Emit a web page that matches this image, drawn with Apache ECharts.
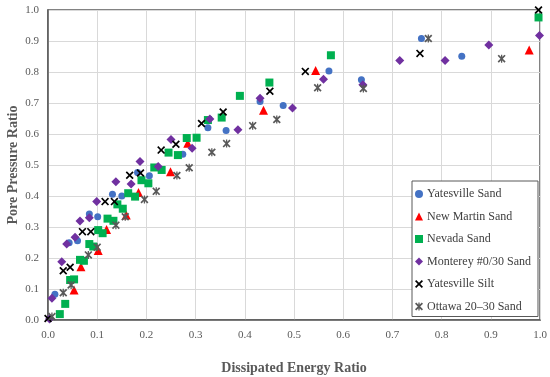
<!DOCTYPE html>
<html>
<head>
<meta charset="utf-8">
<script src="https://cdn.jsdelivr.net/npm/echarts@6/dist/echarts.min.js"></script>
<style>
html,body{margin:0;padding:0;background:#fff;}
#chart{width:550px;height:377px;}
</style>
</head>
<body>
<div id="chart"></div>
<script>
// ---- Data (x = Dissipated Energy Ratio, y = Pore Pressure Ratio) ----
const seriesNames = ['Yatesville Sand', 'New Martin Sand', 'Nevada Sand', 'Monterey #0/30 Sand', 'Yatesville Silt', 'Ottawa 20\u201330 Sand'];

const yatesvilleSand = [
  [0.014,0.083],[0.043,0.249],[0.060,0.256],[0.084,0.342],[0.101,0.333],[0.131,0.406],
  [0.150,0.400],[0.182,0.476],[0.206,0.465],[0.274,0.535],[0.325,0.620],[0.362,0.611],
  [0.431,0.705],[0.478,0.692],[0.571,0.803],[0.637,0.775],[0.759,0.908],[0.841,0.851]
];
const newMartinSand = [
  [0.053,0.097],[0.067,0.172],[0.102,0.224],[0.119,0.292],[0.159,0.339],[0.184,0.411],
  [0.249,0.478],[0.284,0.570],[0.438,0.677],[0.544,0.805],[0.978,0.871]
];
const nevadaSand = [
  [0.024,0.019],[0.035,0.052],[0.045,0.129],[0.053,0.131],[0.065,0.194],[0.073,0.191],
  [0.084,0.245],[0.092,0.237],[0.102,0.290],[0.111,0.280],[0.121,0.327],[0.133,0.320],
  [0.141,0.373],[0.152,0.359],[0.163,0.409],[0.177,0.398],[0.190,0.451],[0.204,0.441],
  [0.216,0.492],[0.231,0.484],[0.245,0.540],[0.264,0.532],[0.282,0.587],[0.302,0.588],
  [0.325,0.645],[0.353,0.653],[0.390,0.723],[0.450,0.766],[0.575,0.854],[0.997,0.976]
];
const montereySand = [
  [0.003,0.003],[0.008,0.070],[0.028,0.188],[0.038,0.245],[0.055,0.267],[0.065,0.319],
  [0.084,0.330],[0.099,0.382],[0.138,0.446],[0.169,0.439],[0.187,0.511],[0.224,0.495],
  [0.250,0.582],[0.293,0.554],[0.329,0.648],[0.386,0.614],[0.431,0.715],[0.497,0.684],
  [0.560,0.777],[0.640,0.759],[0.715,0.837],[0.807,0.837],[0.896,0.887],[0.999,0.918]
];
const yatesvilleSilt = [
  [0.000,0.005],[0.031,0.159],[0.045,0.170],[0.070,0.285],[0.087,0.285],[0.116,0.382],
  [0.135,0.382],[0.166,0.467],[0.188,0.474],[0.230,0.548],[0.260,0.567],[0.312,0.634],
  [0.356,0.671],[0.451,0.738],[0.523,0.802],[0.756,0.860],[0.997,1.000]
];
const ottawaSand = [
  [0.008,0.011],[0.031,0.088],[0.047,0.113],[0.082,0.210],[0.100,0.235],[0.138,0.306],
  [0.157,0.333],[0.196,0.389],[0.220,0.415],[0.262,0.466],[0.287,0.491],[0.333,0.541],
  [0.363,0.569],[0.416,0.627],[0.465,0.647],[0.548,0.749],[0.641,0.747],[0.773,0.908],
  [0.922,0.843]
];

const xTickLabels = ['0.0','0.1','0.2','0.3','0.4','0.5','0.6','0.7','0.8','0.9','1.0'];
const yTickLabels = ['0.0','0.1','0.2','0.3','0.4','0.5','0.6','0.7','0.8','0.9','1.0'];

// ---- Styling ----
const FONT = "'Liberation Serif', 'DejaVu Serif', serif";
const xPath = 'path://M0,1.5L1.5,0L5,3.5L8.5,0L10,1.5L6.5,5L10,8.5L8.5,10L5,6.5L1.5,10L0,8.5L3.5,5Z';
const starPath = 'path://M0,1.5L1.5,0L5,3.5L8.5,0L10,1.5L6.5,5L10,8.5L8.5,10L5,6.5L1.5,10L0,8.5L3.5,5Z M4.2,0L5.8,0L5.8,10L4.2,10Z';

const seriesDefs = [
  {data: yatesvilleSand, symbol: 'circle', size: 7, color: '#4472C4'},
  {data: newMartinSand, symbol: 'triangle', size: 9, color: '#FF0000'},
  {data: nevadaSand, symbol: 'rect', size: 8, color: '#00B050'},
  {data: montereySand, symbol: 'diamond', size: 9, color: '#7030A0'},
  {data: yatesvilleSilt, symbol: xPath, size: 8, color: '#000000'},
  {data: ottawaSand, symbol: starPath, size: 8, color: '#595959'}
];

const chart = echarts.init(document.getElementById('chart'), null, {renderer: 'canvas'});

const fmt = (labels) => (v) => {
  const i = Math.round(v * 10);
  return labels[i] !== undefined ? labels[i] : '';
};

const option = {
  backgroundColor: '#ffffff',
  animation: false,
  grid: {
    left: 48, right: 10, top: 10, bottom: 57,
    containLabel: false, outerBoundsMode: 'none',
    show: true, borderColor: '#595959', borderWidth: 1.5, backgroundColor: 'transparent'
  },
  legend: {
    orient: 'vertical',
    left: 412, top: 181,
    padding: [7, 7, 4, 3],
    itemGap: 10.5,
    itemWidth: 8, itemHeight: 8,
    backgroundColor: '#ffffff',
    borderColor: '#595959', borderWidth: 1,
    textStyle: {fontFamily: FONT, fontSize: 12, color: '#404040', padding: [0, 0, 0, -1]},
    data: seriesNames
  },
  xAxis: {
    type: 'value', min: 0, max: 1, interval: 0.1,
    name: 'Dissipated Energy Ratio', nameLocation: 'middle', nameGap: 41,
    nameMoveOverlap: false,
    nameTextStyle: {fontFamily: FONT, fontSize: 14, fontWeight: 'bold', color: '#595959'},
    axisLine: {show: true, lineStyle: {color: '#595959', width: 1.5}},
    axisTick: {show: false},
    axisLabel: {fontFamily: FONT, fontSize: 11, color: '#595959', margin: 10, formatter: fmt(xTickLabels)},
    splitLine: {show: true, lineStyle: {color: '#d9d9d9', width: 1}}
  },
  yAxis: {
    type: 'value', min: 0, max: 1, interval: 0.1,
    name: 'Pore Pressure Ratio', nameLocation: 'middle', nameGap: 28,
    nameMoveOverlap: false,
    nameTextStyle: {fontFamily: FONT, fontSize: 14, fontWeight: 'bold', color: '#595959'},
    axisLine: {show: true, lineStyle: {color: '#595959', width: 1.5}},
    axisTick: {show: false},
    axisLabel: {fontFamily: FONT, fontSize: 11, color: '#595959', margin: 9, formatter: fmt(yTickLabels)},
    splitLine: {show: true, lineStyle: {color: '#d9d9d9', width: 1}}
  },
  series: seriesDefs.map((s, i) => ({
    name: seriesNames[i],
    type: 'scatter',
    data: s.data,
    symbol: s.symbol,
    symbolSize: s.size,
    itemStyle: {color: s.color, opacity: 1},
    z: 2 + i
  }))
};

chart.setOption(option);
</script>
</body>
</html>
